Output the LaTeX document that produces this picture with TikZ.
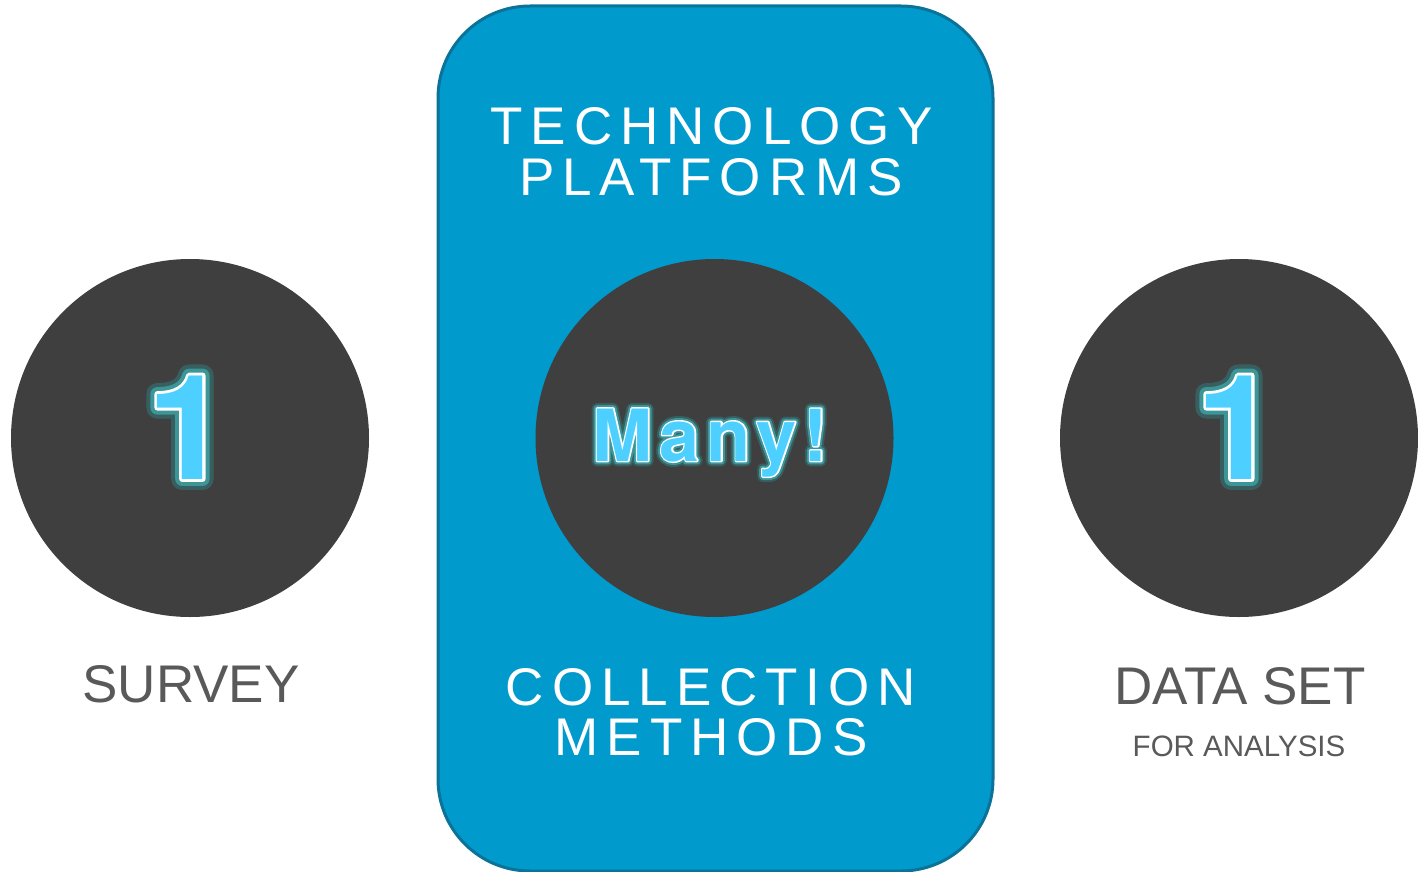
\documentclass[tikz,border=0pt]{standalone}
\usepackage{fontspec}
\setmainfont{Liberation Sans}
\newfontfamily\widefont[LetterSpace=15]{Liberation Sans}
% bold display face with a plain (footless) figure one
\newfontfamily\displayfont{TeX Gyre Heros}
\newfontfamily\displayglow[FakeBold=15]{TeX Gyre Heros}
\newfontfamily\displayhalo[FakeBold=9.5]{TeX Gyre Heros}
\newfontfamily\displayrim[FakeBold=4]{TeX Gyre Heros}

\definecolor{panel}{HTML}{009ACD}
\definecolor{paneledge}{HTML}{0B7298}
\definecolor{disc}{HTML}{3F3F3F}
\definecolor{caption}{HTML}{595959}
\definecolor{neon}{HTML}{4DD0FF}
\definecolor{haloout}{HTML}{385E5F}
\definecolor{haloin}{HTML}{3C9597}

% glowing text: soft outer halo, teal halo, white rim, cyan fill (round joins)
\newcommand{\neontext}[2][0pt]{%
  \special{pdf:literal direct 1 j 1 J}%
  \makebox[0pt][l]{\displayglow\bfseries\addfontfeature{LetterSpace=#1}\color{haloout}#2}%
  \makebox[0pt][l]{\displayhalo\bfseries\addfontfeature{LetterSpace=#1}\color{haloin}#2}%
  \makebox[0pt][l]{\displayrim\bfseries\addfontfeature{LetterSpace=#1}\color{white}#2}%
  {\displayfont\bfseries\addfontfeature{LetterSpace=#1}\color{neon}#2}}

\begin{document}
\begin{tikzpicture}[x=1pt,y=-1pt,
  discstyle/.style={circle,fill=disc,minimum size=358pt,inner sep=0pt},
  headline/.style={anchor=base,inner sep=0pt,text=white,font=\widefont\fontsize{53}{53}\selectfont},
  captionline/.style={anchor=base,inner sep=0pt,text=caption,font=\fontsize{53}{53}\selectfont},
  bigdigit/.style={anchor=base,inner sep=0pt,font=\fontsize{146}{146}\selectfont},
  manystyle/.style={anchor=base,inner sep=0pt,font=\fontsize{72}{72}\selectfont}]
  \useasboundingbox (0,0) rectangle (1418,872);

  % central panel
  \draw[fill=panel,draw=paneledge,line width=3pt,rounded corners=92pt]
    (438,6) rectangle (993,871);

  % discs
  \node[discstyle] (survey) at (190,438) {};
  \node[discstyle] (methods) at (714.5,438) {};
  \node[discstyle] (dataset) at (1239,438) {};

  % disc labels
  \node[bigdigit] (one1) at (188,479) {\neontext{1}};
  \node[bigdigit] (one2) at (1237,479) {\neontext{1}};
  \node[manystyle] (many) at (710,461) {\neontext[10]{Many!}};

  % panel headings
  \node[headline] (tech) at (712,145) {TECHNOLOGY};
  \node[headline] (plat) at (711,195) {PLATFORMS};
  \node[headline] (coll) at (711,705) {COLLECTION};
  \node[headline] (meth) at (711,755) {METHODS};

  % captions
  \node[captionline] (surveytxt) at (191,702) {SURVEY};
  \node[captionline] (datatxt) at (1240,704) {DATA SET};
  \node[anchor=base,inner sep=0pt,text=caption,font=\fontsize{29.5}{30}\selectfont]
    (fortxt) at (1239,756) {FOR ANALYSIS};
\end{tikzpicture}
\end{document}
